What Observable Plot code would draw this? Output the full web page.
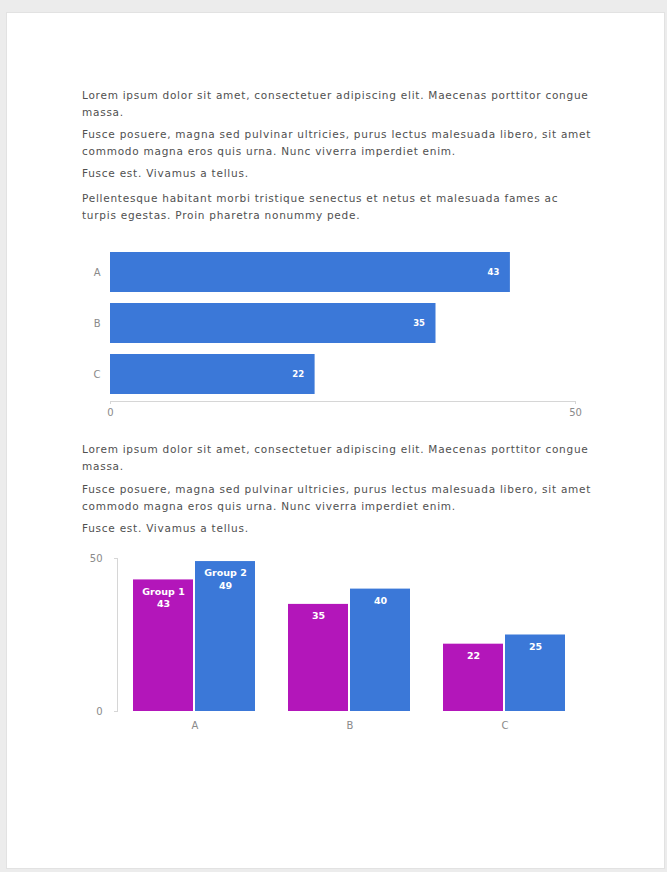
<!DOCTYPE html>
<html>
<head>
<meta charset="utf-8">
<script src="https://cdn.jsdelivr.net/npm/d3@7"></script>
<script src="https://cdn.jsdelivr.net/npm/@observablehq/plot@0.6"></script>
<style>
  html, body { margin: 0; padding: 0; }
  body { width: 667px; height: 872px; background: #ececec; position: relative; overflow: hidden; font-family: "DejaVu Sans", sans-serif; }
  #page { position: absolute; left: 6px; top: 12px; width: 659px; height: 857px; background: #fff; border: 1px solid #e2e2e2; box-sizing: border-box; }
  .txt { position: absolute; left: 82px; width: 570px; color: #505050; font-size: 10.5px; letter-spacing: 0.75px; line-height: 17px; }
  .txt p { margin: 0 0 5px 0; white-space: nowrap; }
  #c1 { position: absolute; left: 0; top: 240px; }
  #c2 { position: absolute; left: 0; top: 545px; }
  svg { overflow: visible; }
  g[aria-label$="tick label"] { fill: #8a8a8a; font-size: 10px; }
</style>
</head>
<body>
<div id="page"></div>
<div class="txt" style="top:87px">
  <p>Lorem ipsum dolor sit amet, consectetuer adipiscing elit. Maecenas porttitor congue<br>massa.</p>
  <p>Fusce posuere, magna sed pulvinar ultricies, purus lectus malesuada libero, sit amet<br>commodo magna eros quis urna. Nunc viverra imperdiet enim.</p>
  <p style="margin-bottom:8px">Fusce est. Vivamus a tellus.</p>
  <p>Pellentesque habitant morbi tristique senectus et netus et malesuada fames ac<br>turpis egestas. Proin pharetra nonummy pede.</p>
</div>
<div class="txt" style="top:441px">
  <p style="margin-bottom:6px">Lorem ipsum dolor sit amet, consectetuer adipiscing elit. Maecenas porttitor congue<br>massa.</p>
  <p style="margin-bottom:5px">Fusce posuere, magna sed pulvinar ultricies, purus lectus malesuada libero, sit amet<br>commodo magna eros quis urna. Nunc viverra imperdiet enim.</p>
  <p>Fusce est. Vivamus a tellus.</p>
</div>
<div id="c1"></div>
<div id="c2"></div>
<script>
const categories = ["A", "B", "C"];
const singleValues = [43, 35, 22];
const groups = ["Group 1", "Group 2"];
const group1Values = [43, 35, 22];
const group2Values = [49, 40, 25];
const xTicks = [0, 50];

const blue = "#3b78d8";
const magenta = "#b316ba";

const rows1 = categories.map((c, i) => ({cat: c, value: singleValues[i]}));
const rows2 = [];
categories.forEach((c, i) => {
  rows2.push({cat: c, group: groups[0], value: group1Values[i]});
  rows2.push({cat: c, group: groups[1], value: group2Values[i]});
});

const chart1 = Plot.plot({
  width: 667,
  height: 181,
  marginLeft: 110,
  marginRight: 92,
  marginTop: 5,
  marginBottom: 20,
  style: {fontFamily: "DejaVu Sans, sans-serif", fontSize: "10px", color: "#d6d6d6", background: "transparent"},
  x: {domain: [0, 50], ticks: xTicks, tickSize: 3, tickPadding: 4, label: null, line: true},
  y: {domain: categories, paddingInner: 0.22, paddingOuter: 0.12, tickSize: 0, tickPadding: 10, label: null},
  marks: [
    Plot.barX(rows1, {x: "value", y: "cat", fill: blue}),
    Plot.text(rows1, {x: "value", y: "cat", text: d => String(d.value), textAnchor: "end", dx: -11, fill: "white", fontWeight: "bold", fontSize: 8.5})
  ]
});
document.getElementById("c1").appendChild(chart1);

const chart2 = Plot.plot({
  width: 667,
  height: 191,
  marginLeft: 117,
  marginRight: 85,
  marginTop: 13,
  marginBottom: 25,
  style: {fontFamily: "DejaVu Sans, sans-serif", fontSize: "10px", color: "#d6d6d6", background: "transparent"},
  fx: {domain: categories, paddingInner: 0, paddingOuter: 0, axis: "bottom", tickSize: 0, tickPadding: 10, label: null},
  x: {domain: groups, paddingInner: 0.032, paddingOuter: 0.26, axis: null},
  y: {domain: [0, 50], ticks: xTicks, tickSize: 3, tickPadding: 12, label: null, line: true},
  color: {domain: groups, range: [magenta, blue]},
  marks: [
    Plot.barY(rows2, {fx: "cat", x: "group", y: "value", fill: "group"}),
    Plot.text(rows2, {fx: "cat", x: "group", y: "value",
      text: d => d.cat === "A" ? `${d.group}\n${d.value}` : String(d.value),
      lineAnchor: "top", dy: 6, lineHeight: 1.3, fill: "white", fontWeight: "bold", fontSize: 9.5})
  ]
});
document.getElementById("c2").appendChild(chart2);
</script>
</body>
</html>
